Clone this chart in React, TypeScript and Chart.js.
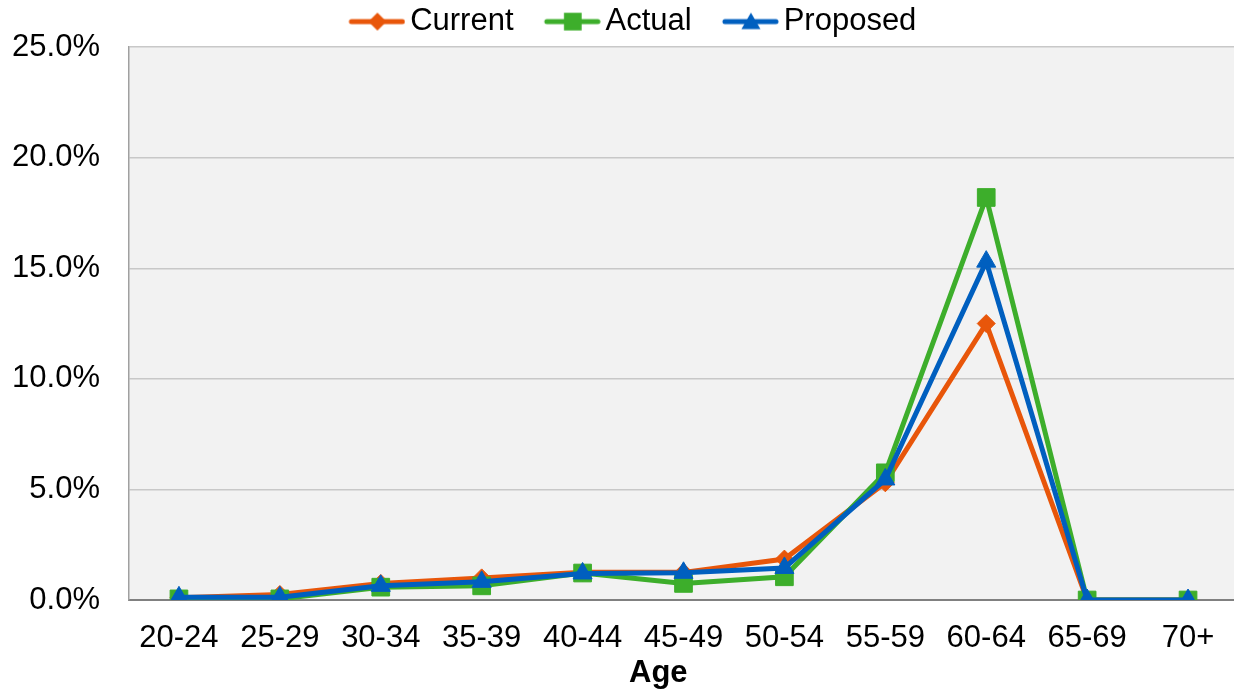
import React, { useEffect, useRef } from "react";
import { Chart, registerables } from "chart.js";

Chart.register(...registerables);

const categories = ["20-24", "25-29", "30-34", "35-39", "40-44", "45-49", "50-54", "55-59", "60-64", "65-69", "70+"];
const currentValues = [0.1, 0.25, 0.75, 1.0, 1.25, 1.25, 1.85, 5.3, 12.5, 0, 0];
const actualValues = [0.05, 0.05, 0.58, 0.64, 1.22, 0.75, 1.05, 5.75, 18.2, 0, 0];
const proposedValues = [0.12, 0.12, 0.64, 0.82, 1.2, 1.23, 1.45, 5.45, 15.3, 0, 0];
const seriesNames = ["Current", "Actual", "Proposed"];
const yTicks = [0, 5, 10, 15, 20, 25];
const xAxisTitle = "Age";

const ORANGE = "#E8560A";
const GREEN = "#3DAE2B";
const BLUE = "#005FBF";
const FONT = "'Liberation Sans', Arial, sans-serif";

function drawMarker(ctx: CanvasRenderingContext2D, style: string, x: number, y: number, r: number) {
  ctx.beginPath();
  if (style === "rect") {
    const s = Math.SQRT1_2 * r;
    ctx.rect(x - s, y - s, 2 * s, 2 * s);
  } else if (style === "rectRot") {
    ctx.moveTo(x, y - r);
    ctx.lineTo(x + r, y);
    ctx.lineTo(x, y + r);
    ctx.lineTo(x - r, y);
    ctx.closePath();
  } else {
    ctx.moveTo(x, y - r);
    ctx.lineTo(x + r * Math.sin((2 * Math.PI) / 3), y + r / 2);
    ctx.lineTo(x - r * Math.sin((2 * Math.PI) / 3), y + r / 2);
    ctx.closePath();
  }
  ctx.fill();
}

function makeLegendImage(color: string, style: string, r: number) {
  const c = document.createElement("canvas");
  c.width = 94;
  c.height = 30;
  const ctx = c.getContext("2d")!;
  ctx.strokeStyle = color;
  ctx.fillStyle = color;
  ctx.lineWidth = 5;
  ctx.lineCap = "round";
  ctx.beginPath();
  ctx.moveTo(40, 15);
  ctx.lineTo(91, 15);
  ctx.stroke();
  drawMarker(ctx, style, 66, style === "triangle" ? 17 : 15, r);
  return c;
}

export default function App() {
  const ref = useRef<HTMLCanvasElement>(null);
  useEffect(() => {
    if (!ref.current) return;
    const legendImages = [
      makeLegendImage(ORANGE, "rectRot", 9),
      makeLegendImage(GREEN, "rect", 12.5),
      makeLegendImage(BLUE, "triangle", 11),
    ];
    const bgPlugin = {
      id: "plotBg",
      beforeDraw(chart: any) {
        const { ctx, chartArea } = chart;
        ctx.save();
        ctx.fillStyle = "#F2F2F2";
        ctx.fillRect(chartArea.left, chartArea.top, chartArea.right - chartArea.left, chartArea.bottom - chartArea.top);
        ctx.restore();
      },
    };
    const axisTitlePlugin = {
      id: "xAxisTitle",
      afterDraw(chart: any) {
        const { ctx, chartArea } = chart;
        const xs = chart.scales.x;
        const cx = (chartArea.left + xs.getPixelForValue(categories.length - 1)) / 2;
        ctx.save();
        ctx.font = `bold 31px ${FONT}`;
        ctx.fillStyle = "#000";
        ctx.textAlign = "center";
        ctx.textBaseline = "middle";
        ctx.fillText(xAxisTitle, cx, xs.bottom - 18.6);
        ctx.restore();
      },
    };
    const mk = (label: string, data: number[], color: string, style: string, r: number, order: number) => ({
      label,
      data,
      borderColor: color,
      backgroundColor: color,
      borderWidth: 5,
      pointStyle: style,
      pointRadius: r,
      pointBorderWidth: 1,
      pointBorderColor: color,
      pointBackgroundColor: color,
      tension: 0,
      order,
    });
    const chart = new Chart(ref.current, {
      type: "line",
      data: {
        labels: categories,
        datasets: [
          mk(seriesNames[0], currentValues, ORANGE, "rectRot", 9, 3),
          mk(seriesNames[1], actualValues, GREEN, "rect", 12.5, 2),
          mk(seriesNames[2], proposedValues, BLUE, "triangle", 11, 1),
        ],
      },
      options: {
        responsive: false,
        animation: false,
        devicePixelRatio: 1,
        layout: { autoPadding: false, padding: { top: 0.5, left: 0, right: 1.5, bottom: 0 } },
        plugins: {
          tooltip: { enabled: false },
          legend: {
            position: "top",
            labels: {
              usePointStyle: true,
              pointStyleWidth: 72.5,
              padding: 4,
              color: "#000",
              font: { size: 31, family: FONT },
              generateLabels: (chart: any) => {
                const items = Chart.defaults.plugins.legend.labels.generateLabels(chart);
                const byIndex = items.slice().sort((a: any, b: any) => a.datasetIndex - b.datasetIndex);
                return byIndex.map((it: any) => ({ ...it, pointStyle: legendImages[it.datasetIndex] }));
              },
            },
          },
        },
        scales: {
          x: {
            offset: true,
            grid: { display: false, drawTicks: false },
            border: { display: true, color: "#808080", width: 2 },
            ticks: { color: "#000", font: { size: 31, family: FONT }, padding: 20, maxRotation: 0, autoSkip: false },
            title: { display: false },
            afterFit: (s: any) => {
              s.height = 92;
              s.paddingLeft = 0;
              s.paddingRight = 0;
            },
          },
          y: {
            min: 0,
            max: 25,
            afterBuildTicks: (s: any) => {
              s.ticks = yTicks.map((v) => ({ value: v }));
            },
            grid: { color: "#C8C8C8", lineWidth: 1.5, drawTicks: false },
            border: { display: true, color: "#A0A0A0", width: 1.5 },
            ticks: {
              color: "#000",
              font: { size: 31, family: FONT },
              padding: 28.5,
              callback: (v: any) => Number(v).toFixed(1) + "%",
            },
            afterFit: (s: any) => {
              s.width = 128.5;
            },
          },
        },
      },
      plugins: [bgPlugin, axisTitlePlugin],
    } as any);
    return () => chart.destroy();
  }, []);
  return (
    <div style={{ position: "fixed", left: 0, top: 0, width: 1234, height: 692, overflow: "hidden", background: "#fff" }}>
      <canvas ref={ref} width={1240} height={692} style={{ display: "block" }} />
    </div>
  );
}
